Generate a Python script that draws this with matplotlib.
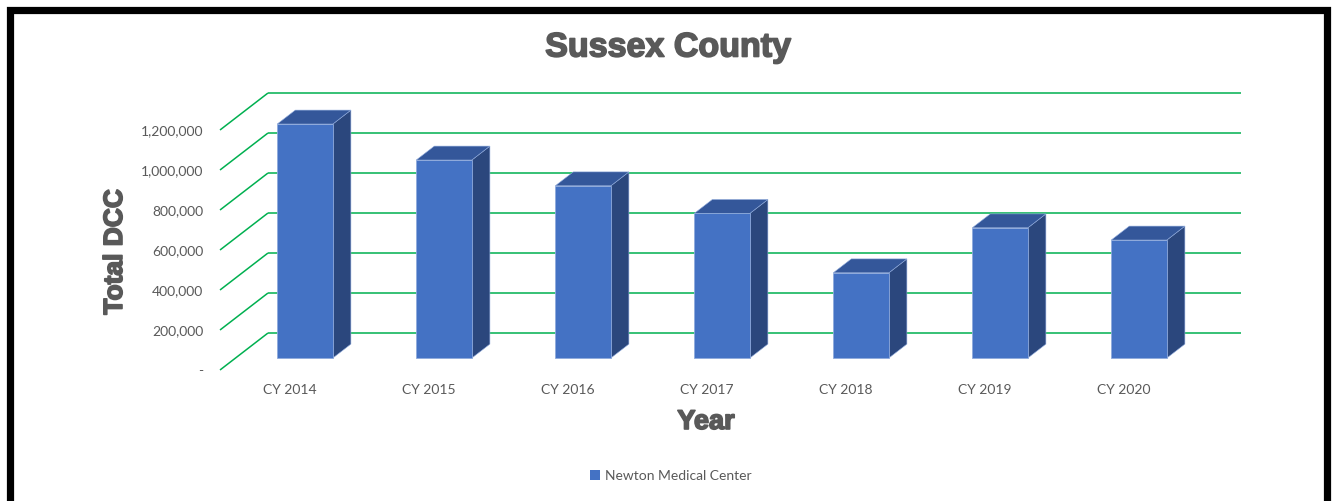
import matplotlib
matplotlib.use("Agg")
import matplotlib.pyplot as plt
import matplotlib.patheffects as pe
from matplotlib.patches import Polygon, Rectangle, Patch

# data
years = ["CY 2014", "CY 2015", "CY 2016", "CY 2017", "CY 2018", "CY 2019", "CY 2020"]
dcc = [1170000, 990000, 861000, 723000, 426000, 651000, 590000]
ticks = [0, 200000, 400000, 600000, 800000, 1000000, 1200000]
tick_labels = ["-", "200,000", "400,000", "600,000", "800,000", "1,000,000", "1,200,000"]

W, H = 1335, 501
fig = plt.figure(figsize=(W / 100, H / 100), dpi=100)
fig.patch.set_facecolor("white")

# fake 3d: depth offset of the back wall in data units
DX = 48 / 139.0
DY = 185000
d0, d1 = 0.324, 0.70   # bar front / back depth
bw = 0.4

ax = fig.add_axes([220 / W, (H - 370) / H, 1020 / W, 276 / H])
ax.set_xlim(0, 1020 / 139.0)
ax.set_ylim(0, 1380000)
for s in ax.spines.values():
    s.set_visible(False)

grid = "#00B050"
n = len(years)
for t in ticks:
    ax.plot([0, DX], [t, t + DY], color=grid, lw=1.1, zorder=1, solid_capstyle="butt", clip_on=False)
    ax.plot([DX, n + DX], [t + DY, t + DY], color=grid, lw=1.1, zorder=1, solid_capstyle="butt", clip_on=False)

front = "#4472C4"
top_c = "#34579A"
side_c = "#2B477D"
edge = "#8FAADC"
xs = [i + 0.5 - bw / 2 + d0 * DX for i in range(n)]
ax.bar(xs, dcc, width=bw, bottom=d0 * DY, align="edge", color=front,
       edgecolor=edge, linewidth=0.6, zorder=3, label="Newton Medical Center")
dd = (d1 - d0)
for x, v in zip(xs, dcc):
    b = d0 * DY
    topv = b + v
    top = [(x, topv), (x + bw, topv), (x + bw + dd * DX, topv + dd * DY), (x + dd * DX, topv + dd * DY)]
    side = [(x + bw, b), (x + bw + dd * DX, b + dd * DY), (x + bw + dd * DX, topv + dd * DY), (x + bw, topv)]
    ax.add_patch(Polygon(side, closed=True, facecolor=side_c, edgecolor=edge, lw=0.4, zorder=2))
    ax.add_patch(Polygon(top, closed=True, facecolor=top_c, edgecolor=edge, lw=0.4, zorder=2))

ax.set_yticks(ticks)
ax.set_yticklabels(tick_labels)
ax.set_xticks([i + 0.5 for i in range(n)])
ax.set_xticklabels(years)
ax.tick_params(axis="y", length=0, pad=12, labelsize=10, labelcolor="#595959")
ax.tick_params(axis="x", length=0, pad=10, labelsize=10, labelcolor="#595959")
for lab in ax.get_xticklabels() + ax.get_yticklabels():
    lab.set_fontfamily("Lato")

heavy = [pe.withStroke(linewidth=1.2, foreground="#595959")]
fig.text(668 / W, 1 - 48 / H, "Sussex County", ha="center", va="center",
         fontsize=24.5, fontweight="bold", color="#595959", family="Liberation Sans",
         path_effects=heavy)
fig.text(115 / W, 1 - 252 / H, "Total DCC", ha="center", va="center", rotation=90,
         fontsize=19, fontweight="bold", color="#595959", family="Liberation Sans",
         path_effects=heavy)
fig.text(706 / W, 1 - 422 / H, "Year", ha="center", va="center",
         fontsize=19.5, fontweight="bold", color="#595959", family="Liberation Sans",
         path_effects=heavy)

fig.legend(handles=[Patch(facecolor=front, label="Newton Medical Center")],
           loc="center", bbox_to_anchor=(671 / W, 1 - 476 / H), frameon=False,
           handlelength=0.7, handleheight=0.7, handletextpad=0.4,
           prop={"family": "Lato", "size": 10}, labelcolor="#595959")

# black frame
fig.patches.append(Rectangle((9.5 / W, -0.1), (1326.5 - 9.5) / W, 1.1 - 9.5 / H,
                             transform=fig.transFigure, fill=False, edgecolor="black",
                             linewidth=5.2))

fig.savefig("out.png", dpi=100)
